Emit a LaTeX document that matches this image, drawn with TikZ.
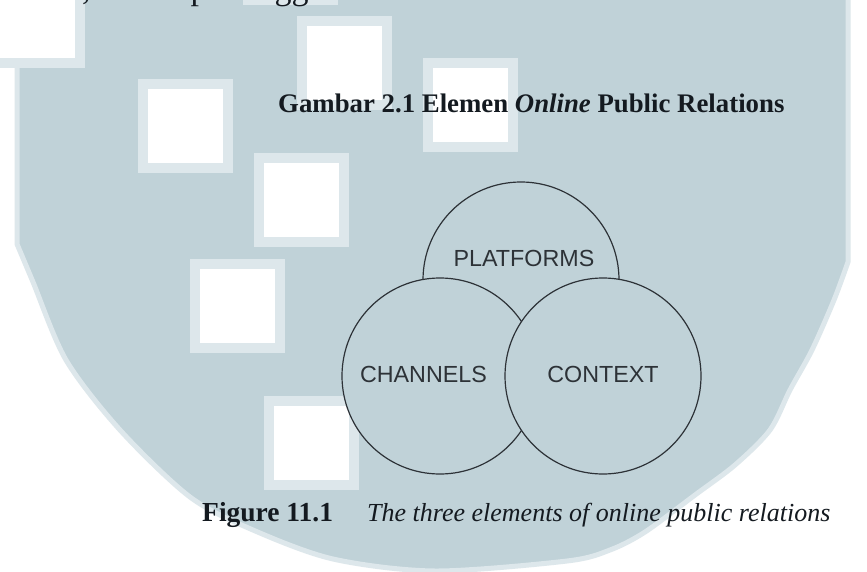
\documentclass[tikz,border=0pt]{standalone}
\usepackage{fontspec}
\setmainfont{Liberation Serif}
\newfontfamily\labelfont{Liberation Sans}
\usetikzlibrary{positioning}

\definecolor{logoblue}{RGB}{192,210,216}
\definecolor{tileedge}{RGB}{221,231,235}
\definecolor{inkgray}{RGB}{45,50,55}
\definecolor{inkdark}{RGB}{20,26,32}

\tikzset{
  venn/.style={circle, draw=inkgray, line width=1.2pt, fill=logoblue,
    minimum size=196pt, inner sep=0pt},
  vennlabel/.style={font=\labelfont\fontsize{23.3}{26}\selectfont,
    text=inkgray, inner sep=0pt},
  caption/.style={anchor=base west, inner sep=0pt, text=inkdark},
}

\begin{document}
\begin{tikzpicture}[x=1pt, y=-1pt]
  \useasboundingbox (0,0) rectangle (867,572);
  \fill[white] (0,0) rectangle (867,572);

  % watermark behind the figure
  \filldraw[fill=logoblue, draw=tileedge, line width=5pt]
    (17,-10) -- (17,244)
    -- plot[smooth] coordinates {(17,244) (33,282) (66,360) (120,430)
      (190,497) (253,530) (333,559) (435,571) (567,561) (610,550)
      (645,532) (695,495) (735,465) (770,430) (790,390) (812,350)
      (834,300) (848,262)}
    -- (848,-10) -- cycle;

  % cut-out corner and white tiles
  \fill[tileedge] (-10,-10) rectangle (85,68);
  \fill[white] (-10,-10) rectangle (75,58);
  \foreach \tx/\ty in {243/-89, 297/16, 423/58, 138/79, 254/153, 190/259, 264/396} {
    \fill[tileedge] (\tx,\ty) rectangle ++(95,94);
    \fill[white] (\tx+10,\ty+10) rectangle ++(75,74);
  }

  % last line of the paragraph above
  \node[caption, font=\fontsize{34}{40}\selectfont] (prevline) at (-22,0)
    {internet, di tahap menggunakan media};

  % title
  \node[caption, font=\bfseries\fontsize{26.8}{32}\selectfont] (title) at (278,113)
    {Gambar 2.1 Elemen \textit{Online} Public Relations};

  % three circles, later ones cover the earlier ones
  \node[venn] (platforms) at (521,280) {};
  \node[venn] (channels) at (440,376) {};
  \node[venn] (context) at (603,376) {};

  \node[vennlabel] (platformstext) at (524,258.5) {PLATFORMS};
  \node[vennlabel] (channelstext) at (423.5,374) {CHANNELS};
  \node[vennlabel] (contexttext) at (603,374) {CONTEXT};

  % caption of the book figure
  \node[caption, font=\bfseries\fontsize{27.5}{32}\selectfont] (fignum) at (202,521)
    {Figure 11.1};
  \node[caption, font=\itshape\fontsize{26}{32}\selectfont] (figtext) at (367,521)
    {The three elements of online public relations};
\end{tikzpicture}
\end{document}
